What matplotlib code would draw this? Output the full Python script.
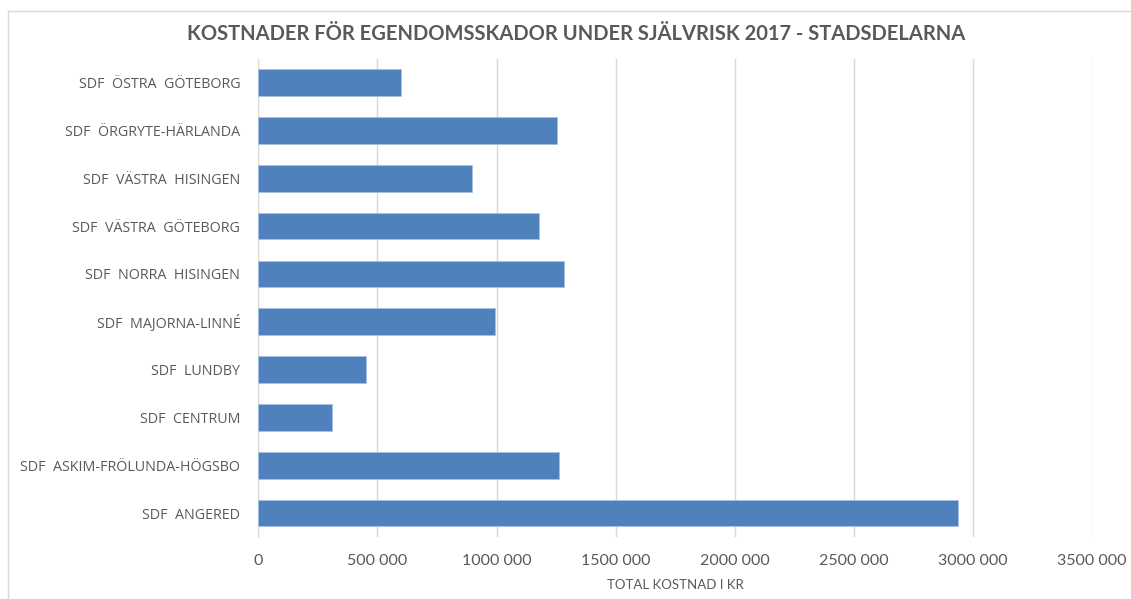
import matplotlib.pyplot as plt
from matplotlib.lines import Line2D
from matplotlib.ticker import FuncFormatter

districts = ['SDF ANGERED', 'SDF ASKIM-FRÖLUNDA-HÖGSBO', 'SDF CENTRUM', 'SDF LUNDBY',
             'SDF MAJORNA-LINNÉ', 'SDF NORRA HISINGEN', 'SDF VÄSTRA GÖTEBORG',
             'SDF VÄSTRA HISINGEN', 'SDF ÖRGRYTE-HÄRLANDA', 'SDF ÖSTRA GÖTEBORG']
costs = [2936000, 1263000, 309000, 453000, 993000, 1284000, 1179000, 898000, 1252000, 599000]
xticks = [0, 500000, 1000000, 1500000, 2000000, 2500000, 3000000, 3500000]

grey = '#595959'


def fmt(v, pos):
    # Excel style "# ###": only the last group is separated
    v = int(v)
    if v < 1000:
        return str(v)
    return f'{v // 1000} {v % 1000:03d}'


fig = plt.figure(figsize=(11.31, 5.99), dpi=100)
ax = fig.add_axes([0.2284, 0.1035, 0.7371, 0.7985])

ax.barh(range(len(districts)), costs, height=0.56, color='#4f81bd',
        edgecolor='#a9c0de', linewidth=0.6, zorder=3)

ax.set_xlim(0, 3500000)
ax.set_ylim(-0.5, len(districts) - 0.5)
ax.set_xticks(xticks)
ax.xaxis.set_major_formatter(FuncFormatter(fmt))
ax.set_yticks(range(len(districts)))
ax.set_yticklabels([d.replace(' ', '  ') for d in districts],
                   fontfamily='Open Sans', fontsize=10.3, color=grey)
ax.tick_params(axis='y', length=0, pad=13)
ax.tick_params(axis='x', length=0, pad=12, labelsize=11.5, labelcolor=grey)
for lab in ax.get_xticklabels():
    lab.set_fontfamily('Lato')

ax.grid(axis='x', color='#d9d9d9', linewidth=1, zorder=0)
for s in ['top', 'right', 'bottom']:
    ax.spines[s].set_visible(False)
ax.spines['left'].set_color('#d9d9d9')

ax.set_xlabel('TOTAL KOSTNAD I KR', fontfamily='Lato', fontsize=9.5, color=grey, labelpad=8)

fig.text(0.509, 0.943, 'KOSTNADER FÖR EGENDOMSSKADOR UNDER SJÄLVRISK 2017 - STADSDELARNA',
         ha='center', va='center', fontfamily='Lato', fontweight='bold', fontsize=14.5, color=grey)

# chart border (left and top only visible)
fig.add_artist(Line2D([0.0075, 0.0075], [0, 0.9815], transform=fig.transFigure, color='#d9d9d9', lw=1))
fig.add_artist(Line2D([0.0075, 1], [0.9815, 0.9815], transform=fig.transFigure, color='#d9d9d9', lw=1))

plt.savefig('out.png', dpi=100)
